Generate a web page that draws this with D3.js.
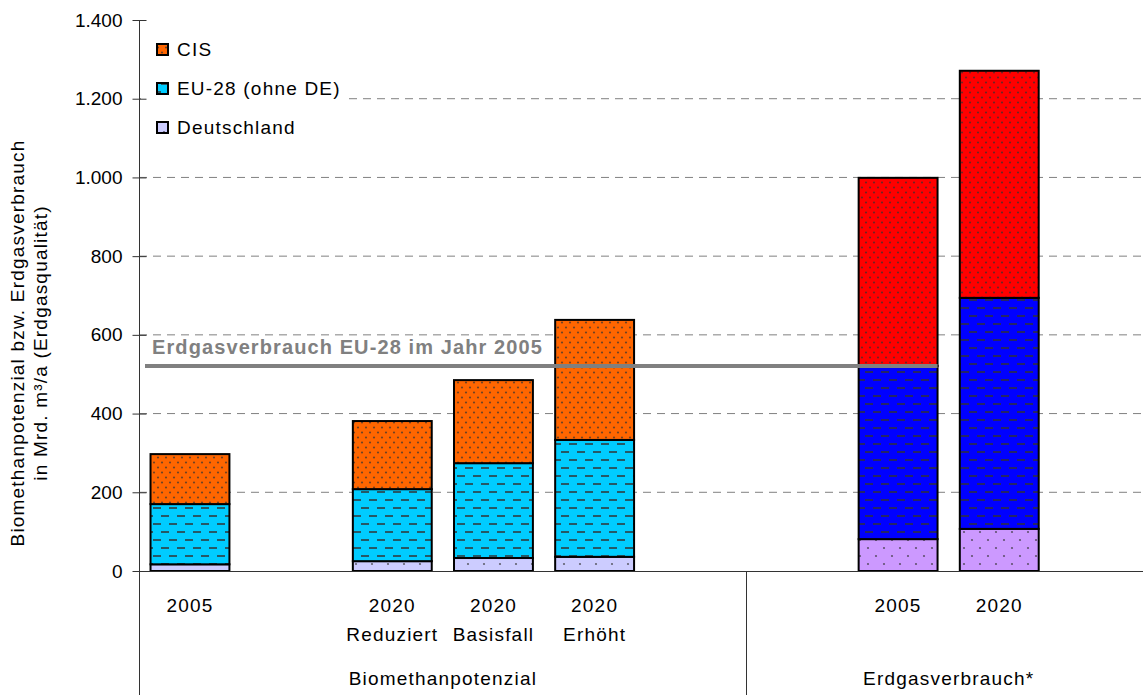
<!DOCTYPE html>
<html><head><meta charset="utf-8">
<script src="https://cdn.jsdelivr.net/npm/d3@7"></script>
<style>body{margin:0;background:#fff}svg{display:block;font-family:"Liberation Sans",Arial,sans-serif}</style>
</head><body><svg id="c" width="1143" height="695"></svg>
<script>
// ---- data ----
const categories = ["b2005","gap1","b2020r","b2020b","b2020e","gap2","gap3","e2005","e2020","gap4"];
const barCats = ["b2005","b2020r","b2020b","b2020e","e2005","e2020"];
const barGroup = ["bio","bio","bio","bio","gas","gas"];
const labelLine1 = ["2005","2020","2020","2020","2005","2020"];
const labelLine2 = ["","Reduziert","Basisfall","Erhöht","",""];
const seriesNames = ["Deutschland","EU-28 (ohne DE)","CIS"];
const deutschland = [17,25,33,36,81,107];
const eu28 = [153,183,241,297,440,587];
const cis = [127,173,211,305,478,577];
const groupNames = ["Biomethanpotenzial","Erdgasverbrauch*"];
const groupStart = ["b2005","gap3"];
const groupEnd = ["gap2","gap4"];
const yTicks = [0,200,400,600,800,1000,1200,1400];
const refValue = 521;
const refLabel = "Erdgasverbrauch EU-28 im Jahr 2005";
const yTitle1 = "Biomethanpotenzial bzw. Erdgasverbrauch";
const yTitle2 = "in Mrd. m³/a (Erdgasqualität)";

// ---- styles ----
const colors = {bio:["#CCCCFF","#00CCFF","#FF6600"], gas:["#CC99FF","#0000FF","#FF0000"]};
const LS = 1.2;
const svg = d3.select("#c");
const fmt = d3.formatLocale({decimal:",",thousands:".",grouping:[3],currency:["","€"]}).format(",d");

const x = d3.scaleBand().domain(categories).range([139.4,1151]).paddingInner(0.22).paddingOuter(0.11);
const y = d3.scaleLinear().domain([0,1400]).range([571,20]);

// patterns
const defs = svg.append("defs");
function makePattern(id, bg, kind){
  let w,h;
  if(kind===0){w=16;h=16;} else if(kind===1){w=16;h=16;} else {w=8;h=10;}
  const p = defs.append("pattern").attr("id",id).attr("patternUnits","userSpaceOnUse").attr("width",w).attr("height",h);
  p.append("rect").attr("width",w).attr("height",h).attr("fill",bg);
  const mc = "#333";
  if(kind===0){
    p.append("circle").attr("cx",4).attr("cy",4).attr("r",1.1).attr("fill",mc).attr("opacity",0.7);
    p.append("circle").attr("cx",12).attr("cy",12).attr("r",1.1).attr("fill",mc).attr("opacity",0.7);
  } else if(kind===1){
    p.append("rect").attr("x",1).attr("y",3).attr("width",8).attr("height",2).attr("fill",mc).attr("opacity",0.75);
    p.append("rect").attr("x",9).attr("y",11).attr("width",8).attr("height",2).attr("fill",mc).attr("opacity",0.75);
    p.append("rect").attr("x",-7).attr("y",11).attr("width",8).attr("height",2).attr("fill",mc).attr("opacity",0.75);
  } else {
    p.append("circle").attr("cx",2).attr("cy",2.5).attr("r",1.1).attr("fill",mc).attr("opacity",0.7);
    p.append("circle").attr("cx",6).attr("cy",7.5).attr("r",1.1).attr("fill",mc).attr("opacity",0.7);
  }
}
["bio","gas"].forEach(g=>[0,1,2].forEach(k=>makePattern(`p-${g}-${k}`, colors[g][k], k)));

// gridlines
svg.append("g").selectAll("line").data(yTicks.filter(t=>t>0 && t<1400)).join("line")
  .attr("x1",139).attr("x2",1143).attr("y1",d=>y(d)).attr("y2",d=>y(d))
  .attr("stroke","#808080").attr("stroke-width",1).attr("stroke-dasharray","8,6");

// legend background
svg.append("rect").attr("x",141).attr("y",28).attr("width",205).attr("height",115).attr("fill","#fff");

// stacked bars
const seriesVals = [deutschland, eu28, cis];
const rows = barCats.map((c,i)=>({cat:c, group:barGroup[i], v:seriesVals.map(s=>s[i])}));
rows.forEach(r=>{
  let acc = 0;
  r.v.forEach((val,k)=>{
    svg.append("rect")
      .attr("x",x(r.cat)).attr("width",x.bandwidth())
      .attr("y",y(acc+val)).attr("height",y(acc)-y(acc+val))
      .attr("fill",`url(#p-${r.group}-${k})`)
      .attr("stroke","#000").attr("stroke-width",2);
    acc += val;
  });
});

// reference line
svg.append("line").attr("x1",145).attr("x2",x("e2005")+x.bandwidth())
  .attr("y1",y(refValue)).attr("y2",y(refValue))
  .attr("stroke","#808080").attr("stroke-width",4);
svg.append("text").attr("x",152).attr("y",y(refValue)-12)
  .attr("font-size",20).attr("font-weight","bold").attr("fill","#808080")
  .attr("letter-spacing",1.1).text(refLabel);

// y axis
const yAxis = d3.axisLeft(y).tickValues(yTicks).tickFormat(fmt).tickSize(7).tickPadding(10);
const ya = svg.append("g").attr("transform","translate(139.5,0)").call(yAxis);
ya.select(".domain").remove();
ya.selectAll(".tick line").attr("x2",7).attr("x1",-7).attr("stroke","#333");
ya.selectAll(".tick text").attr("font-size",19).attr("fill","#000").attr("font-family","Liberation Sans, Arial, sans-serif").attr("x",-17);
svg.append("line").attr("x1",139.5).attr("x2",139.5).attr("y1",20).attr("y2",695).attr("stroke","#333");

// x axis line and separators
svg.append("line").attr("x1",139).attr("x2",1143).attr("y1",571.5).attr("y2",571.5).attr("stroke","#333");
const sepX = x(groupStart[1]) - (x.step()-x.bandwidth())/2;
svg.append("line").attr("x1",Math.round(sepX)+0.5).attr("x2",Math.round(sepX)+0.5).attr("y1",571).attr("y2",695).attr("stroke","#333");

// category labels
barCats.forEach((c,i)=>{
  const cx = x(c)+x.bandwidth()/2;
  svg.append("text").attr("x",cx).attr("y",612).attr("text-anchor","middle").attr("font-size",19).attr("letter-spacing",LS).text(labelLine1[i]);
  if(labelLine2[i]) svg.append("text").attr("x",cx).attr("y",641).attr("text-anchor","middle").attr("font-size",19).attr("letter-spacing",LS).text(labelLine2[i]);
});
groupNames.forEach((g,i)=>{
  const x0 = x(groupStart[i]) - (x.step()-x.bandwidth())/2;
  const x1 = x(groupEnd[i]) + x.bandwidth() + (x.step()-x.bandwidth())/2;
  svg.append("text").attr("x",(x0+x1)/2).attr("y",685).attr("text-anchor","middle").attr("font-size",19).attr("letter-spacing",LS).text(g);
});

// y title
const yt = svg.append("text").attr("transform","translate(0,343) rotate(-90)").attr("text-anchor","middle").attr("font-size",19).attr("letter-spacing",LS);
yt.append("tspan").attr("x",0).attr("y",24).text(yTitle1);
yt.append("tspan").attr("x",0).attr("y",47).text(yTitle2);

// legend
const legendOrder = [2,1,0];
legendOrder.forEach((k,i)=>{
  const ly = 49 + i*39;
  svg.append("rect").attr("x",157).attr("y",ly-5).attr("width",11).attr("height",11)
    .attr("fill",`url(#p-bio-${k})`).attr("stroke","#000").attr("stroke-width",2);
  svg.append("text").attr("x",177).attr("y",ly+7).attr("font-size",19).attr("letter-spacing",LS).text(seriesNames[k]);
});
</script></body></html>
